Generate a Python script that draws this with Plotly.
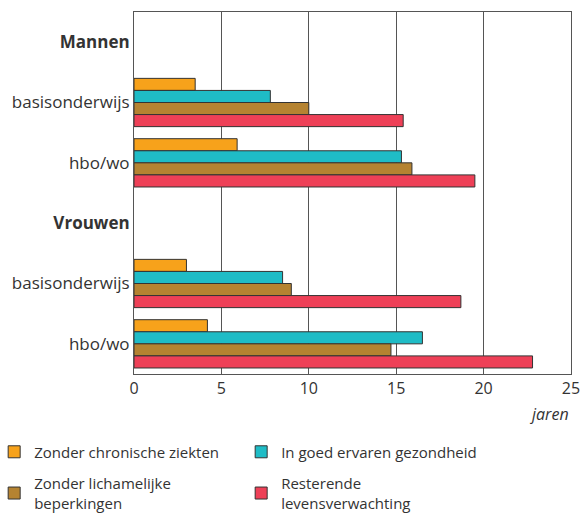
import plotly.graph_objects as go

categories = ["<b>Mannen</b>", "basisonderwijs", "hbo/wo", "<b>Vrouwen</b>", "basisonderwijs", "hbo/wo"]
series_names = ["Zonder chronische ziekten", "In goed ervaren gezondheid",
                "Zonder lichamelijke<br>beperkingen", "Resterende<br>levensverwachting"]
zonder_chronische = [None, 3.5, 5.9, None, 3.0, 4.2]
goed_ervaren = [None, 7.8, 15.3, None, 8.5, 16.5]
zonder_beperkingen = [None, 10.0, 15.9, None, 9.0, 14.7]
resterend = [None, 15.4, 19.5, None, 18.7, 22.8]
colors = ["#F7A21B", "#1FBCC6", "#B58331", "#EE4057"]
legend_ids = ["legend", "legend", "legend2", "legend2"]
x_ticks = [0, 5, 10, 15, 20, 25]

positions = list(range(len(categories)))
fig = go.Figure()
for name, vals, col, lg in zip(series_names,
                               [zonder_chronische, goed_ervaren, zonder_beperkingen, resterend],
                               colors, legend_ids):
    fig.add_trace(go.Bar(y=positions, x=vals, orientation="h", name=name, legend=lg,
                         marker=dict(color=col, line=dict(color="#333333", width=1))))

font = "Open Sans, Lato, sans-serif"
legend_common = dict(orientation="h", xref="paper", x=-0.32, yanchor="top",
                     entrywidth=202, entrywidthmode="pixels", traceorder="normal",
                     font=dict(size=15, color="#333333"), bgcolor="rgba(0,0,0,0)")
fig.update_layout(
    width=582, height=514,
    margin=dict(l=134, r=11, t=12, b=140, autoexpand=False),
    barmode="group", bargap=0.2, bargroupgap=0,
    plot_bgcolor="white", paper_bgcolor="white",
    font=dict(family=font, size=15, color="#333333"),
    xaxis=dict(range=[0, 25], tickvals=x_ticks, showgrid=True, gridcolor="#555555",
               gridwidth=1, showline=True, linecolor="#555555", linewidth=1, mirror=True,
               zeroline=False, ticks="", tickfont=dict(size=16)),
    yaxis=dict(tickvals=positions, ticktext=categories, range=[5.5, -0.5],
               showgrid=False, showline=True, linecolor="#555555", linewidth=1,
               mirror=True, zeroline=False, ticks="", tickfont=dict(size=17)),
    legend=dict(y=-0.17, **legend_common),
    legend2=dict(y=-0.257, **legend_common),
    showlegend=True,
)
fig.add_annotation(text="<i>jaren</i>", x=1, xref="paper", xanchor="right",
                   y=-0.11, yref="paper", yanchor="middle", showarrow=False,
                   font=dict(size=16, color="#333333"))
fig.write_html("out.html", config={"displayModeBar": False},
               post_script="document.body.style.margin='0';")
